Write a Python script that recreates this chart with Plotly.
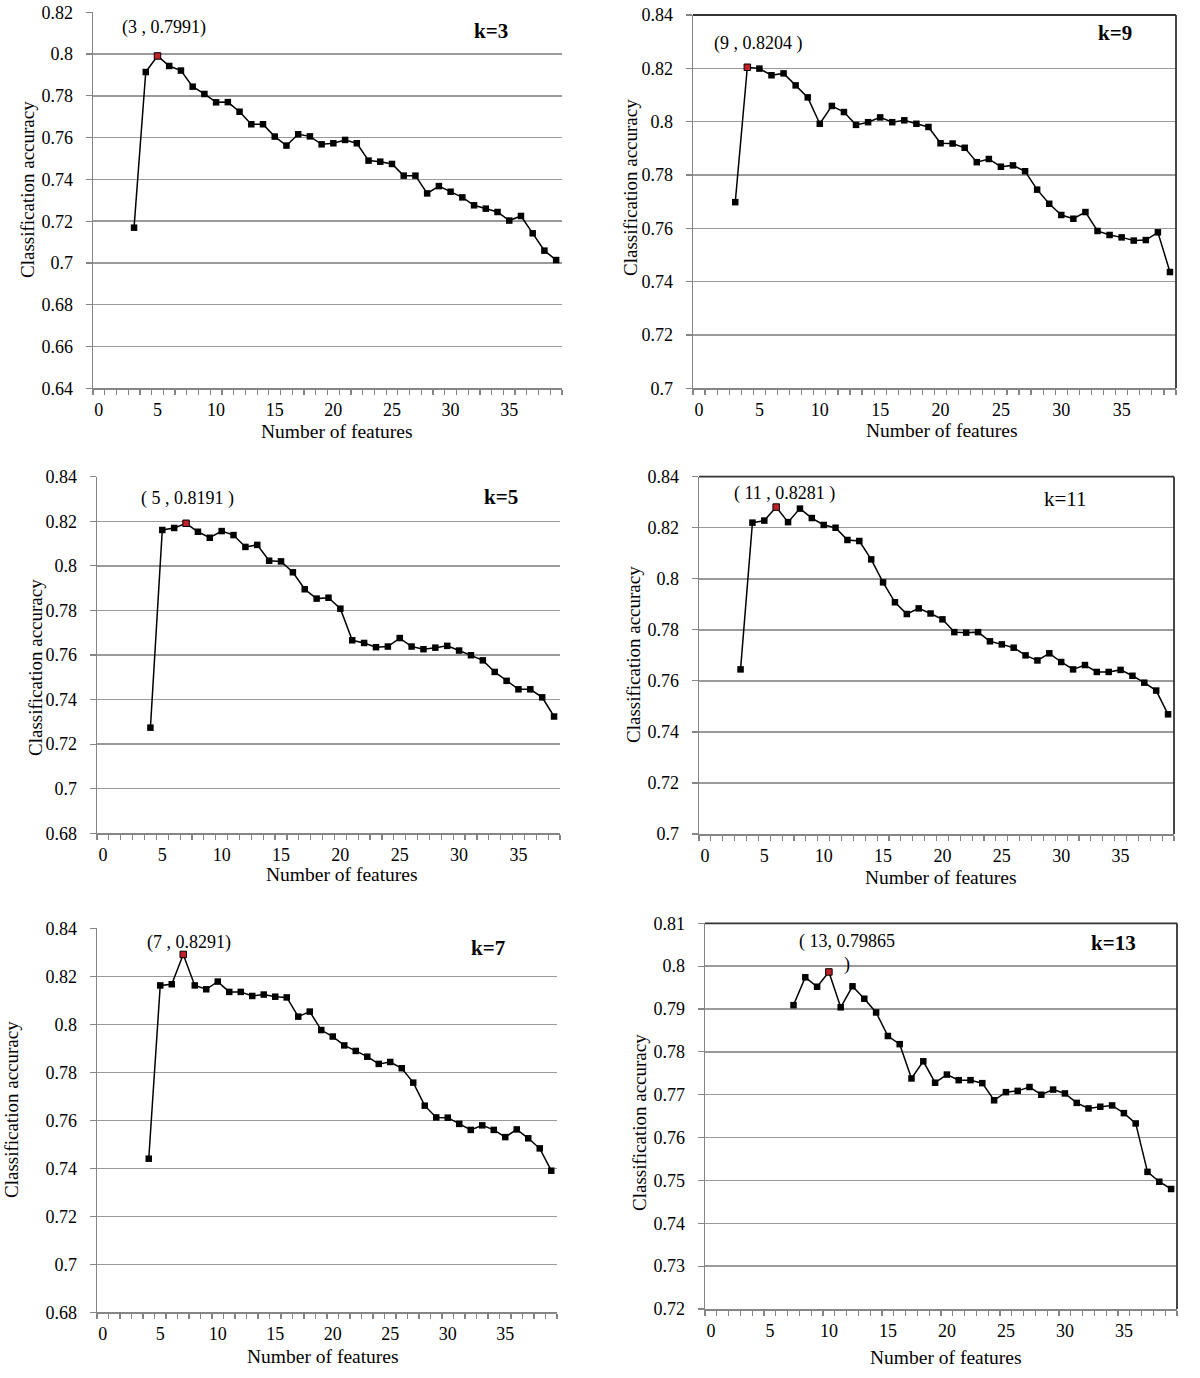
import plotly.graph_objects as go

W, H = 1200, 1378

# ---------------- data ----------------
feat_k3 = [3, 4, 5, 6, 7, 8, 9, 10, 11, 12, 13, 14, 15, 16, 17, 18, 19, 20, 21, 22, 23,
           24, 25, 26, 27, 28, 29, 30, 31, 32, 33, 34, 35, 36, 37, 38, 39]
acc_k3 = [0.7169, 0.7914, 0.7991, 0.7943, 0.7921, 0.7844, 0.7809, 0.7769, 0.7770, 0.7724,
          0.7664, 0.7664, 0.7605, 0.7562, 0.7616, 0.7606, 0.7568, 0.7573, 0.7589, 0.7573,
          0.7490, 0.7485, 0.7474, 0.7418, 0.7418, 0.7333, 0.7368, 0.7341, 0.7314, 0.7276,
          0.7260, 0.7244, 0.7203, 0.7225, 0.7142, 0.7059, 0.7014]

feat_k9 = [3, 4, 5, 6, 7, 8, 9, 10, 11, 12, 13, 14, 15, 16, 17, 18, 19, 20, 21, 22, 23,
           24, 25, 26, 27, 28, 29, 30, 31, 32, 33, 34, 35, 36, 37, 38, 39]
acc_k9 = [0.7698, 0.8204, 0.8199, 0.8174, 0.8181, 0.8136, 0.8091, 0.7992, 0.8059, 0.8036,
          0.7988, 0.7998, 0.8016, 0.7998, 0.8005, 0.7992, 0.7980, 0.7919, 0.7918, 0.7902,
          0.7848, 0.7860, 0.7831, 0.7836, 0.7814, 0.7745, 0.7692, 0.7650, 0.7636, 0.7661,
          0.7590, 0.7575, 0.7566, 0.7554, 0.7556, 0.7585, 0.7436]

feat_k5 = [4, 5, 6, 7, 8, 9, 10, 11, 12, 13, 14, 15, 16, 17, 18, 19, 20, 21, 22, 23,
           24, 25, 26, 27, 28, 29, 30, 31, 32, 33, 34, 35, 36, 37, 38]
acc_k5 = [0.7274, 0.8161, 0.8170, 0.8191, 0.8153, 0.8126, 0.8156, 0.8138, 0.8085, 0.8094,
          0.8023, 0.8020, 0.7971, 0.7895, 0.7853, 0.7857, 0.7808, 0.7666, 0.7654, 0.7635,
          0.7638, 0.7676, 0.7638, 0.7626, 0.7633, 0.7641, 0.7620, 0.7599, 0.7576, 0.7524,
          0.7484, 0.7446, 0.7446, 0.7410, 0.7324]

feat_k11 = [3, 4, 5, 6, 7, 8, 9, 10, 11, 12, 13, 14, 15, 16, 17, 18, 19, 20, 21, 22, 23,
            24, 25, 26, 27, 28, 29, 30, 31, 32, 33, 34, 35, 36, 37, 38, 39]
acc_k11 = [0.7645, 0.8220, 0.8228, 0.8281, 0.8222, 0.8275, 0.8238, 0.8211, 0.8200, 0.8152,
           0.8148, 0.8076, 0.7986, 0.7908, 0.7862, 0.7884, 0.7864, 0.7841, 0.7791, 0.7789,
           0.7791, 0.7755, 0.7743, 0.7730, 0.7700, 0.7680, 0.7708, 0.7674, 0.7645, 0.7662,
           0.7635, 0.7635, 0.7643, 0.7620, 0.7593, 0.7562, 0.7469]

feat_k7 = [4, 5, 6, 7, 8, 9, 10, 11, 12, 13, 14, 15, 16, 17, 18, 19, 20, 21, 22, 23,
           24, 25, 26, 27, 28, 29, 30, 31, 32, 33, 34, 35, 36, 37, 38, 39]
acc_k7 = [0.7440, 0.8162, 0.8167, 0.8291, 0.8162, 0.8146, 0.8178, 0.8135, 0.8135, 0.8118,
          0.8124, 0.8115, 0.8112, 0.8032, 0.8053, 0.7976, 0.7949, 0.7912, 0.7889, 0.7865,
          0.7835, 0.7843, 0.7817, 0.7757, 0.7661, 0.7612, 0.7611, 0.7585, 0.7560, 0.7579,
          0.7560, 0.7530, 0.7562, 0.7525, 0.7483, 0.7390]

feat_k13 = [7, 8, 9, 10, 11, 12, 13, 14, 15, 16, 17, 18, 19, 20, 21, 22, 23,
            24, 25, 26, 27, 28, 29, 30, 31, 32, 33, 34, 35, 36, 37, 38, 39]
acc_k13 = [0.7909, 0.7974, 0.7952, 0.79865, 0.7904, 0.7953, 0.7924, 0.7892, 0.7837, 0.7818,
           0.7738, 0.7778, 0.7728, 0.7747, 0.7734, 0.7734, 0.7727, 0.7687, 0.7706, 0.7709,
           0.7718, 0.7700, 0.7712, 0.7703, 0.7681, 0.7668, 0.7672, 0.7675, 0.7657, 0.7633,
           0.7520, 0.7497, 0.7480]

x_tick_vals = [0, 5, 10, 15, 20, 25, 30, 35]
x_tick_text = ["0", "5", "10", "15", "20", "25", "30", "35"]

yt_k3 = [0.64, 0.66, 0.68, 0.70, 0.72, 0.74, 0.76, 0.78, 0.80, 0.82]
yl_k3 = ["0.64", "0.66", "0.68", "0.7", "0.72", "0.74", "0.76", "0.78", "0.8", "0.82"]
yt_k9 = [0.70, 0.72, 0.74, 0.76, 0.78, 0.80, 0.82, 0.84]
yl_k9 = ["0.7", "0.72", "0.74", "0.76", "0.78", "0.8", "0.82", "0.84"]
yt_k5 = [0.68, 0.70, 0.72, 0.74, 0.76, 0.78, 0.80, 0.82, 0.84]
yl_k5 = ["0.68", "0.7", "0.72", "0.74", "0.76", "0.78", "0.8", "0.82", "0.84"]
yt_k11 = yt_k9
yl_k11 = yl_k9
yt_k7 = yt_k5
yl_k7 = yl_k5
yt_k13 = [0.72, 0.73, 0.74, 0.75, 0.76, 0.77, 0.78, 0.79, 0.80, 0.81]
yl_k13 = ["0.72", "0.73", "0.74", "0.75", "0.76", "0.77", "0.78", "0.79", "0.8", "0.81"]

peak_labels = {"k3": "(3 , 0.7991)", "k9": "(9 , 0.8204 )", "k5": "( 5 , 0.8191 )",
               "k11": "( 11 , 0.8281 )", "k7": "(7 , 0.8291)", "k13": "( 13, 0.79865<br>)"}
k_labels = {"k3": "k=3", "k9": "k=9", "k5": "k=5", "k11": "k=11", "k7": "k=7", "k13": "k=13"}

# ---------------- layout config (pixel positions) ----------------
panels = [
    dict(key="k3", x=feat_k3, y=acc_k3, yt=yt_k3, yl=yl_k3, ncat=40,
         px=(93, 562), py=(12.3, 388.3), box=False, bold=True,
         peak=(164, 28), kpos=(491, 31), ytitle=(27, 190), xtitle=(337, 431)),
    dict(key="k9", x=feat_k9, y=acc_k9, yt=yt_k9, yl=yl_k9, ncat=40,
         px=(693, 1176), py=(15, 388.3), box=True, bold=True,
         peak=(758, 43), kpos=(1115, 33), ytitle=(631, 188), xtitle=(942, 430)),
    dict(key="k5", x=feat_k5, y=acc_k5, yt=yt_k5, yl=yl_k5, ncat=39,
         px=(97, 560), py=(476.7, 833.3), box=False, bold=True,
         peak=(187, 499), kpos=(501, 497), ytitle=(35, 668), xtitle=(342, 874)),
    dict(key="k11", x=feat_k11, y=acc_k11, yt=yt_k11, yl=yl_k11, ncat=40,
         px=(699, 1174), py=(476.7, 834), box=True, bold=False,
         peak=(784, 493), kpos=(1065, 499), ytitle=(634, 655), xtitle=(941, 877)),
    dict(key="k7", x=feat_k7, y=acc_k7, yt=yt_k7, yl=yl_k7, ncat=40,
         px=(97, 557), py=(928.3, 1312.3), box=False, bold=True,
         peak=(189, 943), kpos=(488, 948), ytitle=(11, 1110), xtitle=(323, 1356)),
    dict(key="k13", x=feat_k13, y=acc_k13, yt=yt_k13, yl=yl_k13, ncat=40,
         px=(705, 1177), py=(923.3, 1309), box=True, bold=True,
         peak=(847, 953), kpos=(1113, 943), ytitle=(639, 1123), xtitle=(946, 1357)),
]

FONT = "Liberation Serif, Times New Roman, serif"
GRID = "#9a9a9a"
AXIS = "#858585"
TXT = "#000000"


def fx(p):
    return p / W


def fy(p):
    return 1 - p / H


fig = go.Figure()
annotations = []
shapes = []
layout_axes = {}

for i, p in enumerate(panels, start=1):
    xa = "x" if i == 1 else f"x{i}"
    ya = "y" if i == 1 else f"y{i}"
    xs, ys = p["x"], p["y"]
    peak_i = max(range(len(ys)), key=lambda j: ys[j])
    colors = ["#000000"] * len(ys)
    colors[peak_i] = "#c0202a"
    widths = [0] * len(ys)
    widths[peak_i] = 1
    fig.add_trace(go.Scatter(
        x=xs, y=ys, mode="lines+markers", xaxis=xa, yaxis=ya, showlegend=False,
        line=dict(color="#000000", width=1.5),
        marker=dict(symbol="square", size=6.5, color=colors,
                    line=dict(color="#000000", width=widths)),
        cliponaxis=False, hoverinfo="skip",
    ))
    xkey = "xaxis" if i == 1 else f"xaxis{i}"
    ykey = "yaxis" if i == 1 else f"yaxis{i}"
    layout_axes[xkey] = dict(
        domain=[fx(p["px"][0]), fx(p["px"][1])], anchor=ya, automargin=False,
        range=[-0.5, p["ncat"] - 0.5], tickmode="array",
        tickvals=x_tick_vals, ticktext=x_tick_text, ticks="", ticklen=0,
        showgrid=False, zeroline=False, showline=True, linecolor=AXIS, linewidth=1.5,
        tickfont=dict(family=FONT, size=18, color=TXT), ticklabelstandoff=5,
        minor=dict(ticks="outside", tickmode="linear", tick0=-0.5, dtick=1,
                   ticklen=5, tickcolor=AXIS, tickwidth=1.2, showgrid=False),
        fixedrange=True,
    )
    layout_axes[ykey] = dict(
        domain=[fy(p["py"][1]), fy(p["py"][0])], anchor=xa, automargin=False,
        range=[p["yt"][0], p["yt"][-1]], tickmode="array",
        tickvals=p["yt"], ticktext=p["yl"], ticks="outside", ticklen=6,
        tickcolor=AXIS, tickwidth=1.2,
        showgrid=True, gridcolor=GRID, gridwidth=1.5, zeroline=False,
        showline=True, linecolor=AXIS, linewidth=1.5,
        tickfont=dict(family=FONT, size=18, color=TXT), ticklabelstandoff=9,
        fixedrange=True,
    )
    # texts
    annotations.append(dict(x=fx(p["peak"][0]), y=fy(p["peak"][1]), xref="paper", yref="paper",
                            text=peak_labels[p["key"]], showarrow=False,
                            font=dict(family=FONT, size=18, color=TXT),
                            xanchor="center", yanchor="middle"))
    ktxt = k_labels[p["key"]]
    annotations.append(dict(x=fx(p["kpos"][0]), y=fy(p["kpos"][1]), xref="paper", yref="paper",
                            text=f"<b>{ktxt}</b>" if p["bold"] else ktxt, showarrow=False,
                            font=dict(family=FONT, size=21, color=TXT),
                            xanchor="center", yanchor="middle"))
    annotations.append(dict(x=fx(p["ytitle"][0]), y=fy(p["ytitle"][1]), xref="paper", yref="paper",
                            text="Classification accuracy", showarrow=False, textangle=-90,
                            font=dict(family=FONT, size=19, color=TXT),
                            xanchor="center", yanchor="middle"))
    annotations.append(dict(x=fx(p["xtitle"][0]), y=fy(p["xtitle"][1]), xref="paper", yref="paper",
                            text="Number of features", showarrow=False,
                            font=dict(family=FONT, size=19.5, color=TXT),
                            xanchor="center", yanchor="middle"))
    if p["box"]:
        x0, x1 = fx(p["px"][0]), fx(p["px"][1])
        y0, y1 = fy(p["py"][1]), fy(p["py"][0])
        shapes.append(dict(type="line", xref="paper", yref="paper", x0=x0, x1=x1, y0=y1, y1=y1,
                           line=dict(color="#333333", width=1.8), layer="above"))
        shapes.append(dict(type="line", xref="paper", yref="paper", x0=x1, x1=x1, y0=y0, y1=y1,
                           line=dict(color="#333333", width=1.8), layer="above"))

fig.update_layout(
    width=W, height=H, autosize=False,
    margin=dict(l=0, r=0, t=0, b=0, pad=0, autoexpand=False),
    paper_bgcolor="white", plot_bgcolor="white",
    annotations=annotations, shapes=shapes, showlegend=False,
    font=dict(family=FONT, color=TXT), hovermode=False,
    **layout_axes,
)

fig.write_html("out.html", config={"displayModeBar": False, "staticPlot": True},
               post_script="document.body.style.margin='0';document.body.style.overflow='hidden';")
